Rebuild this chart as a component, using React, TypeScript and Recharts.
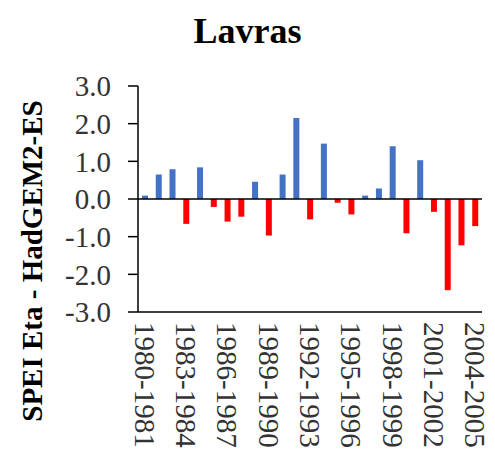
import { Bar, BarChart, Cell, ReferenceLine, XAxis, YAxis } from "recharts"

const seasons = [
  "1980-1981", "1981-1982", "1982-1983", "1983-1984", "1984-1985",
  "1985-1986", "1986-1987", "1987-1988", "1988-1989", "1989-1990",
  "1990-1991", "1991-1992", "1992-1993", "1993-1994", "1994-1995",
  "1995-1996", "1996-1997", "1997-1998", "1998-1999", "1999-2000",
  "2000-2001", "2001-2002", "2002-2003", "2003-2004", "2004-2005",
]

const speiValues = [
  0.09, 0.65, 0.79, -0.66, 0.84,
  -0.21, -0.6, -0.47, 0.46, -0.97,
  0.65, 2.15, -0.54, 1.47, -0.1,
  -0.41, 0.09, 0.28, 1.4, -0.91,
  1.03, -0.34, -2.42, -1.23, -0.72,
]

const yTicks = [-3, -2, -1, 0, 1, 2, 3]

const serif = "'Liberation Serif', 'Times New Roman', serif"

// Rotated category label, reads top to bottom
function SeasonTick(props: any) {
  const { x, y, payload } = props
  return (
    <g transform={`translate(${x},${y})`}>
      <text
        transform="rotate(90)"
        textAnchor="start"
        dominantBaseline="central"
        style={{ fontFamily: serif, fontSize: 29 }}
        fill="#333"
      >
        {payload.value}
      </text>
    </g>
  )
}

export default function App() {
  const data = seasons.map((name, i) => ({ name, value: speiValues[i] }))

  return (
    <div style={{ position: "absolute", left: 0, top: 0, width: 495, height: 462, background: "#fff", fontFamily: serif }}>
      <BarChart width={495} height={462} data={data} margin={{ top: 86, right: 13, left: 0, bottom: 0 }}>
        <XAxis
          dataKey="name"
          height={150}
          interval={2}
          tickSize={0}
          tickMargin={10}
          tick={<SeasonTick />}
          axisLine={{ stroke: "#000", strokeWidth: 1.5 }}
        />
        <XAxis xAxisId="top" dataKey="name" orientation="top" height={0} tick={false} tickLine={false} axisLine={{ stroke: "#000", strokeWidth: 1.5 }} />
        <YAxis
          width={138}
          domain={[-3, 3]}
          ticks={yTicks}
          interval={0}
          tickSize={10}
          tickMargin={17}
          tickFormatter={(v: number) => v.toFixed(1)}
          tick={{ fontFamily: serif, fontSize: 29, fill: "#333", style: { fontFamily: serif } }}
          tickLine={{ stroke: "#000", strokeWidth: 1.5 }}
          axisLine={{ stroke: "#000", strokeWidth: 1.5 }}
        />
        <YAxis yAxisId="right" orientation="right" width={0} domain={[-3, 3]} tick={false} tickLine={false} axisLine={{ stroke: "#000", strokeWidth: 1.5 }} />
        <ReferenceLine y={0} stroke="#000" strokeWidth={1.5} />
        <Bar dataKey="value" barSize={6} isAnimationActive={false}>
          {data.map((d) => (
            <Cell key={d.name} fill={d.value >= 0 ? "#4472C4" : "#FF0000"} />
          ))}
        </Bar>
      </BarChart>
      <svg width={495} height={462} style={{ position: "absolute", left: 0, top: 0, pointerEvents: "none" }}>
        <text x={247.5} y={43} textAnchor="middle" style={{ fontFamily: serif, fontSize: 36, fontWeight: "bold" }} fill="#000">
          Lavras
        </text>
        <text
          transform="translate(42,261) rotate(-90)"
          textAnchor="middle"
          style={{ fontFamily: serif, fontSize: 29, fontWeight: "bold" }}
          fill="#000"
        >
          SPEI Eta - HadGEM2-ES
        </text>
      </svg>
    </div>
  )
}
